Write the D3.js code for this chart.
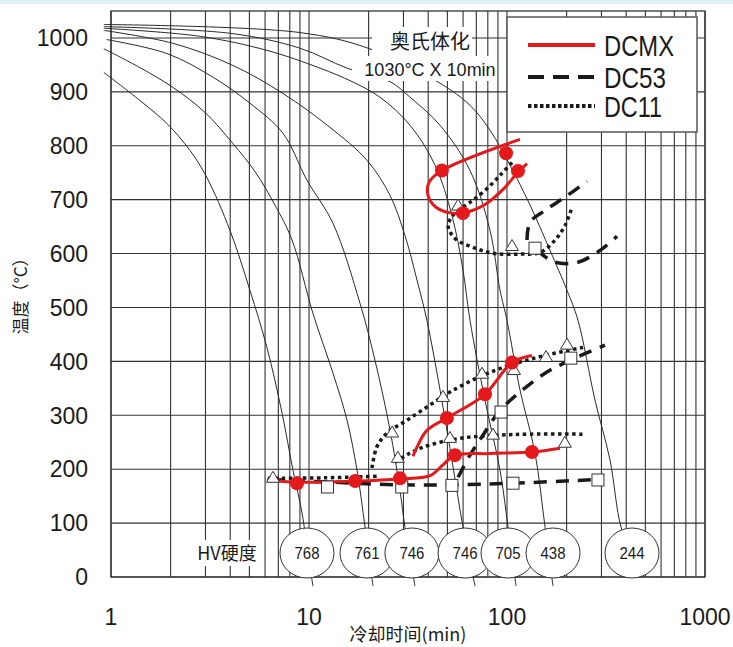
<!DOCTYPE html>
<html>
<head>
<meta charset="utf-8">
<script src="https://cdn.jsdelivr.net/npm/d3@7"></script>
<style>
  html, body { margin: 0; padding: 0; background: #fff; }
  svg { display: block; }
  text { font-family: "Liberation Sans", Arial, sans-serif; fill: #1a1a1a; }
  .cjk { font-family: "Noto Sans CJK SC", "Noto Sans", sans-serif; }
</style>
</head>
<body>
<svg id="chart" width="733" height="647"></svg>
<script>
// axis ticks
const timeLabels = [1, 10, 100, 1000];
const tempTicks = [0, 100, 200, 300, 400, 500, 600, 700, 800, 900, 1000];

// cooling curves [time min, temp C], left to right
const coolingCurves = [
  [[0.92, 936], [1.40, 884], [1.92, 841], [2.51, 791], [3.05, 741], [3.99, 643], [5.03, 532], [6.13, 426], [7.31, 304], [8.30, 198], [9.22, 119], [9.66, 69], [10.47, -17]],
  [[0.92, 980], [1.40, 945], [2.06, 908], [2.98, 862], [4.13, 804], [5.34, 752], [6.73, 690], [8.21, 625], [10.47, 489], [13.22, 378], [15.56, 291], [17.48, 198], [19.18, 93], [21.05, -17]],
  [[0.95, 997], [1.92, 971], [3.28, 927], [5.03, 879], [7.39, 823], [9.77, 736], [13.22, 656], [18.09, 508], [21.54, 402], [25.65, 273], [28.8, 161], [30.5, 93], [34.3, -17]],
  [[0.92, 1014], [2.06, 990], [4.13, 949], [7.39, 897], [12.77, 834], [19.63, 773], [25.65, 708], [30.5, 634], [35.1, 551], [39.4, 476], [45.9, 347], [52.7, 217], [59.95, 93], [68.95, -17]],
  [[0.92, 1018], [2.82, 1003], [6.13, 977], [11.36, 944], [16.49, 919], [22.83, 890], [32.4, 838], [43.3, 764], [52.7, 671], [59.95, 569], [65.05, 476], [77.4, 328], [92.2, 198], [101.2, 93], [111.1, -17]],
  [[0.92, 1021], [4.13, 1008], [9.0, 981], [15.56, 944], [25.65, 919], [32.4, 890], [45.9, 838], [65.05, 754], [82.05, 643], [92.2, 532], [100, 476], [116.3, 347], [138.5, 230], [155.6, 93], [170.8, -17]],
  [[0.92, 1025], [9.0, 1010], [19.86, 981], [45.9, 916], [65.05, 875], [82.05, 829], [103.5, 764], [130.7, 690], [164.9, 606], [200.9, 532], [228.4, 476], [278.3, 328], [331.3, 217], [376.5, 93], [427.9, 45]]
];

// hardness circles
const hvTimes = [9.77, 19.63, 33.1, 61.4, 101.2, 170.8, 427.9];
const hvValues = [768, 761, 746, 746, 705, 438, 244];
const hvTemp = 44.5;

// DCMX (red solid)
const dcmxLoop = [[116.3, 812], [46.9, 754], [40.4, 732], [39.9, 708], [43.8, 686], [52.7, 675], [61.4, 676], [77.4, 691], [95.5, 719], [113.6, 751], [126.2, 767]];
const dcmxBottom = [[6.13, 180], [8.7, 176], [17.1, 178], [28.8, 182], [40.8, 188], [47.5, 208], [54.6, 226], [82, 229], [133.7, 232], [185.2, 239]];
const dcmxBranch = [[33.5, 224], [35.1, 241], [39.4, 272], [49.7, 295], [77.4, 339], [106, 398], [133.7, 411]];
const dcmxDots = [[46.9, 754], [98.9, 786], [113.6, 753], [59.9, 675], [8.7, 174], [17.1, 178], [28.8, 183], [54.6, 226], [133.7, 232], [49.7, 295], [77.4, 339], [106, 398]];

// DC53 (black dashed)
const dc53Upper = [[126.2, 625], [130.7, 658], [155.6, 680], [198.6, 706], [253.6, 734]];
const dc53Lower = [[141.8, 606], [174.8, 584], [228.3, 584], [295, 606], [359.5, 632]];
const dc53Bottom = [[6.35, 181], [12.8, 176], [28.8, 171], [51.5, 171], [107.2, 174], [288, 181]];
const dc53Rise = [[56.6, 185], [65, 226], [75.6, 263], [92.2, 309], [116.3, 343], [155.6, 378], [208, 402], [312.6, 430]];
const dc53Squares = [[12.4, 167], [29.4, 167], [52.7, 170], [107.2, 174], [288, 180], [93.3, 306], [210, 406], [138.5, 610]];

// DC11 (black dotted)
const dc11Upper = [[106, 769], [92.2, 745], [77.4, 717], [65, 695], [54.6, 675], [50.4, 652], [54.6, 628], [68.9, 610], [86.9, 600], [116.3, 599], [146.8, 602], [174.8, 625], [196.3, 652], [213, 686]];
const dc11Bottom = [[6.2, 183], [12, 184], [22.8, 187]];
const dc11Rise = [[20.8, 202], [22, 241], [24.8, 267], [31.3, 291], [40.8, 319], [51.5, 343], [73.1, 372], [103.5, 393], [155.6, 411], [242, 426]];
const dc11Mid = [[27.2, 213], [32.4, 230], [40.8, 245], [59.9, 258], [89, 263], [130.7, 265], [242, 265]];
const dc11Triangles = [[6.58, 185], [56.6, 690], [106, 615], [26.3, 269], [47.5, 335], [74.8, 378], [108.5, 385], [157.4, 409], [201, 432], [28.1, 222], [51.5, 259], [85, 265], [196, 250]];

const legendNames = ['DCMX', 'DC53', 'DC11'];

const RED = '#e3191c';
const INK = '#1a1a1a';

const svg = d3.select('#chart');

const x = d3.scaleLog().domain([1, 1000]).range([111, 705]);
const y = d3.scaleLinear().domain([0, 1050]).range([577, 11]);

// faint band at the very top
svg.append('rect').attr('x', 0).attr('y', 0).attr('width', 733).attr('height', 4).attr('fill', '#dcf3f7');

// grid
const grid = svg.append('g').attr('stroke', '#333').attr('stroke-width', 1.1);
grid.selectAll('line.v')
  .data(x.ticks())
  .join('line')
  .attr('x1', d => x(d)).attr('x2', d => x(d))
  .attr('y1', y(0)).attr('y2', y(1050));
grid.selectAll('line.h')
  .data(tempTicks)
  .join('line')
  .attr('x1', x(1)).attr('x2', x(1000))
  .attr('y1', d => y(d)).attr('y2', d => y(d));
svg.append('rect')
  .attr('x', x(1)).attr('y', y(1050))
  .attr('width', x(1000) - x(1)).attr('height', y(0) - y(1050))
  .attr('fill', 'none').attr('stroke', '#333').attr('stroke-width', 1.3);

const line = d3.line()
  .x(d => x(d[0]))
  .y(d => y(d[1]))
  .curve(d3.curveCatmullRom.alpha(0.5));

// cooling curves
svg.append('g')
  .selectAll('path')
  .data(coolingCurves)
  .join('path')
  .attr('d', line)
  .attr('fill', 'none')
  .attr('stroke', '#2a2a2a')
  .attr('stroke-width', 1);

// austenitizing label (white backing hides the lines)
svg.append('rect').attr('x', 372).attr('y', 27).attr('width', 100).attr('height', 30).attr('fill', '#fff');
svg.append('rect').attr('x', 352).attr('y', 56).attr('width', 145).attr('height', 25).attr('fill', '#fff');
svg.append('text').attr('class', 'cjk')
  .attr('x', 430).attr('y', 49).attr('text-anchor', 'middle')
  .style('font-size', '20px').text('奥氏体化');
svg.append('text')
  .attr('x', 430).attr('y', 76).attr('text-anchor', 'middle')
  .style('font-size', '18px').text('1030°C X 10min');

// DC11 dotted
svg.append('g')
  .selectAll('path')
  .data([dc11Upper, dc11Bottom, dc11Rise, dc11Mid])
  .join('path')
  .attr('d', line)
  .attr('fill', 'none')
  .attr('stroke', INK)
  .attr('stroke-width', 3.5)
  .attr('stroke-dasharray', '3.5,3.5');

// DC53 dashed
svg.append('g')
  .selectAll('path')
  .data([dc53Upper, dc53Lower, dc53Bottom, dc53Rise])
  .join('path')
  .attr('d', line)
  .attr('fill', 'none')
  .attr('stroke', INK)
  .attr('stroke-width', 3.5)
  .attr('stroke-dasharray', '13,9');

// DCMX solid
svg.append('g')
  .selectAll('path')
  .data([dcmxLoop, dcmxBottom, dcmxBranch])
  .join('path')
  .attr('d', line)
  .attr('fill', 'none')
  .attr('stroke', RED)
  .attr('stroke-width', 3);

// markers
svg.append('g')
  .selectAll('path')
  .data(dc11Triangles)
  .join('path')
  .attr('transform', d => `translate(${x(d[0])},${y(d[1])})`)
  .attr('d', 'M0,-6L6.5,5L-6.5,5Z')
  .attr('fill', '#fff')
  .attr('stroke', '#333')
  .attr('stroke-width', 1);

svg.append('g')
  .selectAll('rect')
  .data(dc53Squares)
  .join('rect')
  .attr('x', d => x(d[0]) - 6)
  .attr('y', d => y(d[1]) - 6)
  .attr('width', 12).attr('height', 12)
  .attr('fill', '#fff')
  .attr('stroke', '#333')
  .attr('stroke-width', 1);

svg.append('g')
  .selectAll('circle')
  .data(dcmxDots)
  .join('circle')
  .attr('cx', d => x(d[0]))
  .attr('cy', d => y(d[1]))
  .attr('r', 7)
  .attr('fill', RED);

// hardness
svg.append('rect').attr('x', 192).attr('y', 540).attr('width', 70).attr('height', 26).attr('fill', '#fff');
svg.append('text').attr('class', 'cjk')
  .attr('x', 227).attr('y', 560).attr('text-anchor', 'middle')
  .style('font-size', '18px').text('HV硬度');

const hv = svg.append('g')
  .selectAll('g')
  .data(hvTimes)
  .join('g')
  .attr('transform', d => `translate(${x(d)},${y(hvTemp)})`);
hv.append('ellipse')
  .attr('rx', 27).attr('ry', 25)
  .attr('fill', '#fff')
  .attr('stroke', '#333')
  .attr('stroke-width', 1);
hv.append('text')
  .attr('x', -12.5)
  .attr('dy', '0.36em')
  .attr('textLength', 25)
  .attr('lengthAdjust', 'spacingAndGlyphs')
  .style('font-size', '17px')
  .text((d, i) => hvValues[i]);

// axes labels
svg.append('g')
  .selectAll('text')
  .data(tempTicks)
  .join('text')
  .attr('x', 88)
  .attr('y', d => y(d))
  .attr('dy', '0.36em')
  .attr('text-anchor', 'end')
  .style('font-size', '23px')
  .text(d => d);

svg.append('g')
  .selectAll('text')
  .data(timeLabels)
  .join('text')
  .attr('x', d => x(d))
  .attr('y', 625)
  .attr('text-anchor', 'middle')
  .style('font-size', '23px')
  .text(d => d);

svg.append('text').attr('class', 'cjk')
  .attr('x', (x(1) + x(1000)) / 2).attr('y', 641)
  .attr('text-anchor', 'middle')
  .style('font-size', '18px')
  .text('冷却时间(min)');

svg.append('text').attr('class', 'cjk')
  .attr('transform', 'translate(27,292) rotate(-90)')
  .attr('text-anchor', 'middle')
  .style('font-size', '17px')
  .text('温度（°C）');

// legend
const lg = svg.append('g').attr('transform', 'translate(507,17)');
lg.append('rect')
  .attr('width', 190).attr('height', 115)
  .attr('fill', '#fff')
  .attr('stroke', '#555')
  .attr('stroke-width', 1.5);
const legendStyles = [
  { stroke: RED, dash: null, w: 4, len: 70 },
  { stroke: INK, dash: '16,9', w: 4, len: 62 },
  { stroke: INK, dash: '3.5,2.5', w: 4, len: 58 }
];
const rows = lg.selectAll('g')
  .data(legendNames)
  .join('g')
  .attr('transform', (d, i) => `translate(0,${[28, 60, 89][i]})`);
rows.append('line')
  .attr('x1', 21).attr('x2', 88)
  .attr('stroke', (d, i) => legendStyles[i].stroke)
  .attr('stroke-width', (d, i) => legendStyles[i].w)
  .attr('stroke-dasharray', (d, i) => legendStyles[i].dash);
rows.append('text')
  .attr('x', 97)
  .attr('y', 11)
  .attr('textLength', (d, i) => legendStyles[i].len)
  .attr('lengthAdjust', 'spacingAndGlyphs')
  .style('font-size', '30px')
  .text(d => d);
</script>
</body>
</html>
